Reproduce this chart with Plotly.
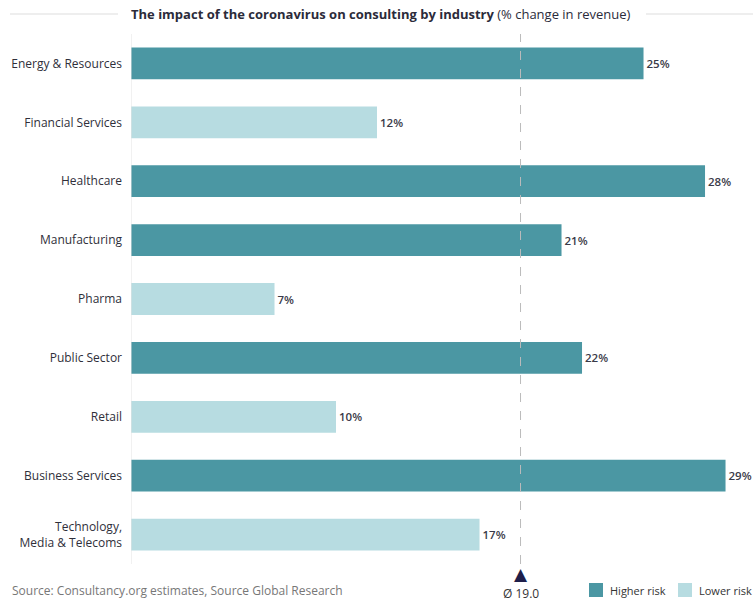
import plotly.graph_objects as go

categories = ["Energy & Resources", "Financial Services", "Healthcare", "Manufacturing",
              "Pharma", "Public Sector", "Retail", "Business Services",
              "Technology,<br>Media & Telecoms"]
values = [25, 12, 28, 21, 7, 22, 10, 29, 17]
risk = ["Higher risk", "Lower risk", "Higher risk", "Higher risk", "Lower risk",
        "Higher risk", "Lower risk", "Higher risk", "Lower risk"]
colors = {"Higher risk": "#4b97a3", "Lower risk": "#b7dce1"}
mean_val = round(sum(values) / len(values), 1)

W, H = 753, 602
ML, MR, MT, MB = 131, 0, 34, 38
PW, PH = W - ML - MR, H - MT - MB


def px_x(p):
    return (p - ML) / PW


def px_y(p):
    return (H - MB - p) / PH


fig = go.Figure()
for grp in ["Higher risk", "Lower risk"]:
    cats = [c for c, r in zip(categories, risk) if r == grp]
    vals = [v for v, r in zip(values, risk) if r == grp]
    fig.add_trace(go.Bar(
        y=cats, x=vals, orientation="h", name=grp,
        marker=dict(color=colors[grp], line=dict(width=0)),
        width=0.54,
        text=[f"{v}%" for v in vals], textposition="outside",
        textfont=dict(family="Open Sans", size=11.5, color="#3a3a48", weight=600),
        cliponaxis=False, showlegend=False,
    ))

fig.update_layout(
    width=W, height=H,
    margin=dict(l=ML, r=MR, t=MT, b=MB, autoexpand=False),
    plot_bgcolor="white", paper_bgcolor="white",
    barmode="overlay",
    font=dict(family="Open Sans", size=12, color="#333333"),
    showlegend=False,
    xaxis=dict(range=[0, 30.34], visible=False, fixedrange=True),
    yaxis=dict(categoryorder="array", categoryarray=categories, autorange="reversed",
               showgrid=False, zeroline=False, ticks="", ticklabelstandoff=8,
               tickfont=dict(size=12, color="#2f2f3a"), automargin=False),
)

# axis line
fig.add_shape(type="line", xref="x", yref="paper", x0=0, x1=0, y0=0.0, y1=1.0,
              line=dict(color="#e3e3e3", width=1))
# mean dashed line
fig.add_shape(type="line", xref="x", yref="paper", x0=mean_val, x1=mean_val, y0=0.0, y1=1.0,
              line=dict(color="#bbbbbb", width=1, dash="dash"), layer="above")

# title
ty = px_y(14)
fig.add_annotation(xref="paper", yref="paper", x=px_x(381), y=ty, xanchor="center", yanchor="middle",
                   text="<b>The impact of the coronavirus on consulting by industry</b> (% change in revenue)",
                   showarrow=False, font=dict(size=13, color="#2b2b3a"))
fig.add_shape(type="line", xref="paper", yref="paper", x0=px_x(10), x1=px_x(118), y0=ty, y1=ty,
              line=dict(color="#dddddd", width=1))
fig.add_shape(type="line", xref="paper", yref="paper", x0=px_x(646), x1=1.0, y0=ty, y1=ty,
              line=dict(color="#dddddd", width=1))

# source
fig.add_annotation(xref="paper", yref="paper", x=px_x(10), y=px_y(590), xanchor="left", yanchor="middle",
                   text="Source: Consultancy.org estimates, Source Global Research",
                   showarrow=False, font=dict(size=12, color="#777777"))

# mean marker
fig.add_annotation(xref="x", yref="paper", x=mean_val, y=px_y(574), xanchor="center", yanchor="middle",
                   text="▲", showarrow=False, font=dict(size=17, color="#1e1e4a", family="DejaVu Sans"))
fig.add_annotation(xref="x", yref="paper", x=mean_val, y=px_y(593), xanchor="center", yanchor="middle",
                   text=f"Ø {mean_val:.1f}", showarrow=False, font=dict(size=12, color="#333333"))

# manual legend
legend_items = [("Higher risk", 589, 609), ("Lower risk", 678, 698)]
for name, sx, tx in legend_items:
    fig.add_shape(type="rect", xref="paper", yref="paper",
                  x0=px_x(sx), x1=px_x(sx + 14), y0=px_y(597), y1=px_y(583),
                  fillcolor=colors[name], line=dict(width=0))
    fig.add_annotation(xref="paper", yref="paper", x=px_x(tx), y=px_y(590), xanchor="left",
                       yanchor="middle", text=name, showarrow=False, borderpad=0,
                       font=dict(size=11, color="#333333"))

fig.write_html("out.html")
